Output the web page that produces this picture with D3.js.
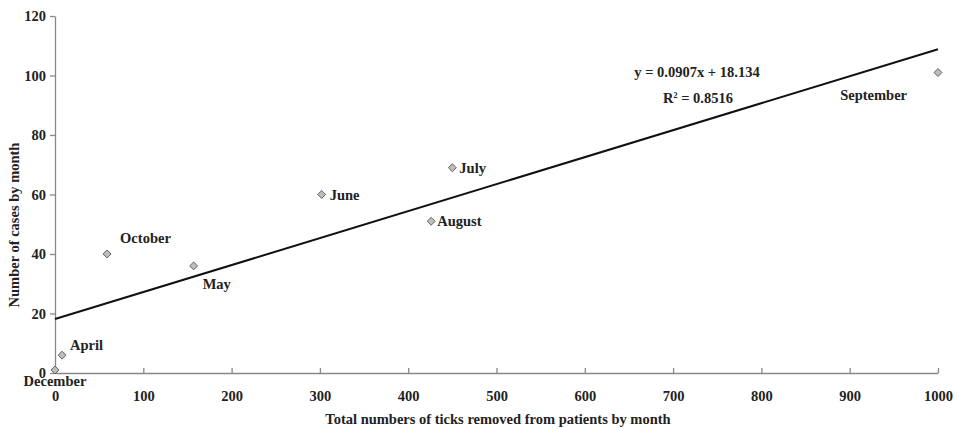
<!DOCTYPE html>
<html>
<head>
<meta charset="utf-8">
<script src="https://cdn.jsdelivr.net/npm/d3@7"></script>
<style>
  body { margin: 0; background: #fff; }
  svg text { font-family: "Liberation Serif", serif; font-weight: bold; fill: #222; }
</style>
</head>
<body>
<div id="chart"></div>
<script>
// Data
var months = ["December", "April", "October", "May", "June", "July", "August", "September"];
var ticksRemoved = [0, 8, 59, 157, 302, 450, 426, 1000];
var casesByMonth = [1, 6, 40, 36, 60, 69, 51, 101];

var xTicks = [0, 100, 200, 300, 400, 500, 600, 700, 800, 900, 1000];
var yTicks = [0, 20, 40, 60, 80, 100, 120];

// trend line from the fitted equation
var slope = 0.0907;
var intercept = 18.134;
var rSquared = "0.8516";

var width = 963;
var height = 429;
var fontSize = 14.5;

var svg = d3.select("#chart")
  .append("svg")
  .attr("width", width)
  .attr("height", height);

var X_Scale = d3.scaleLinear().domain([0, 1000]).range([55, 938]);
var Y_Scale = d3.scaleLinear().domain([0, 120]).range([373, 16]);

// Axes
var x_Axis = d3.axisBottom(X_Scale).tickValues(xTicks).tickFormat(d3.format("d"))
  .tickSizeInner(-5).tickSizeOuter(0).tickPadding(18);
var y_Axis = d3.axisLeft(Y_Scale).tickValues(yTicks).tickFormat(d3.format("d"))
  .tickSizeInner(5).tickSizeOuter(0).tickPadding(4);

var gx = svg.append("g")
  .attr("transform", "translate(0," + Y_Scale(0) + ")")
  .call(x_Axis);
var gy = svg.append("g")
  .attr("transform", "translate(" + X_Scale(0) + ",0)")
  .call(y_Axis);

[gx, gy].forEach(function(g) {
  g.selectAll("path, line").attr("stroke", "#888").attr("stroke-width", 1.3);
  g.selectAll("text").attr("font-size", fontSize).attr("fill", "#222")
    .attr("font-family", "Liberation Serif").attr("font-weight", "bold");
});

// Axis titles
svg.append("text")
  .attr("x", 498)
  .attr("y", 424)
  .attr("text-anchor", "middle")
  .attr("font-size", fontSize)
  .text("Total numbers of ticks removed from patients by month");

svg.append("text")
  .attr("transform", "translate(19,225)rotate(-90)")
  .attr("text-anchor", "middle")
  .attr("font-size", fontSize)
  .text("Number of cases by month");

// Trend line
svg.append("line")
  .attr("x1", X_Scale(0))
  .attr("y1", Y_Scale(intercept))
  .attr("x2", X_Scale(1000))
  .attr("y2", Y_Scale(slope * 1000 + intercept))
  .attr("stroke", "#111")
  .attr("stroke-width", 2);

// Points
var points = months.map(function(m, i) {
  return { month: m, x: ticksRemoved[i], y: casesByMonth[i] };
});

svg.selectAll("path.pt")
  .data(points)
  .enter()
  .append("path")
  .attr("class", "pt")
  .attr("d", d3.symbol().type(d3.symbolDiamond2).size(40))
  .attr("transform", function(d) { return "translate(" + X_Scale(d.x) + "," + Y_Scale(d.y) + ")"; })
  .attr("fill", "#bdbdbd")
  .attr("stroke", "#555")
  .attr("stroke-width", 0.9);

// where each month name sits relative to its point
var labelOffset = {
  December: [0, 16, "middle"],
  April: [8, -5, "start"],
  October: [13, -11, "start"],
  May: [9, 23, "start"],
  June: [8, 5, "start"],
  July: [7, 5, "start"],
  August: [6, 5, "start"],
  September: [-31, 27, "end"]
};

svg.selectAll("text.lbl")
  .data(points)
  .enter()
  .append("text")
  .attr("class", "lbl")
  .attr("x", function(d) { return X_Scale(d.x) + labelOffset[d.month][0]; })
  .attr("y", function(d) { return Y_Scale(d.y) + labelOffset[d.month][1]; })
  .attr("text-anchor", function(d) { return labelOffset[d.month][2]; })
  .attr("font-size", fontSize)
  .text(function(d) { return d.month; });

// Equation text
svg.append("text")
  .attr("x", 697)
  .attr("y", 77)
  .attr("text-anchor", "middle")
  .attr("font-size", fontSize)
  .text("y = " + slope + "x + " + intercept);

var r2 = svg.append("text")
  .attr("x", 698)
  .attr("y", 103)
  .attr("text-anchor", "middle")
  .attr("font-size", fontSize);
r2.append("tspan").text("R");
r2.append("tspan").attr("dy", -5).attr("font-size", 8).text("2");
r2.append("tspan").attr("dy", 5).text(" = " + rSquared);
</script>
</body>
</html>
